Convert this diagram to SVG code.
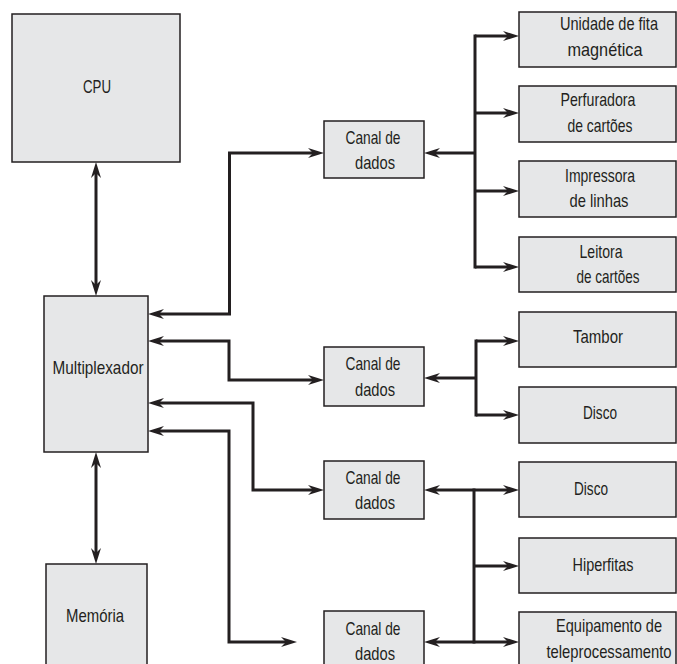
<svg xmlns="http://www.w3.org/2000/svg" width="677" height="664" viewBox="0 0 677 664">
<style>
.box{fill:#e6e7e8;stroke:#231f20;stroke-width:1.5}
.t{font-family:"Liberation Sans","Arial",sans-serif;font-size:18.5px;fill:#231f20;text-anchor:middle}
.c{fill:none;stroke:#231f20;stroke-width:3;stroke-linejoin:miter}
.a{marker-end:url(#ah)}
.b{marker-start:url(#ah);marker-end:url(#ah)}
.s{marker-start:url(#ah)}
.bus{stroke-linecap:square}
</style>
<defs>
<marker id="ah" viewBox="0 0 16 10" refX="8" refY="5" markerWidth="16" markerHeight="10" markerUnits="userSpaceOnUse" orient="auto-start-reverse">
<path d="M16,5 L0,0 L5,5 L0,10 Z" fill="#231f20"/>
</marker>
</defs>
<rect width="677" height="664" fill="#fff"/>
<g id="connectors">
<path class="c b" d="M96,170 V288"/>
<path class="c b" d="M96,460 V556"/>
<path class="c b" d="M156,314 H229.5 V153 H316"/>
<path class="c b" d="M156,341 H229 V380 H316"/>
<path class="c b" d="M156,403 H253 V490 H316"/>
<path class="c b" d="M156,431 H229 V642 H289"/>
<path class="c s" d="M432,153 H475"/>
<path class="c bus" d="M475,36 V267"/>
<path class="c a" d="M475,36 H511"/>
<path class="c a" d="M475,113 H511"/>
<path class="c a" d="M475,191 H511"/>
<path class="c a" d="M475,267 H511"/>
<path class="c s" d="M432,378 H476"/>
<path class="c bus" d="M476,341 V415"/>
<path class="c a" d="M476,341 H511"/>
<path class="c a" d="M476,415 H511"/>
<path class="c b" d="M432,490 H511"/>
<path class="c bus" d="M474,490 V642"/>
<path class="c a" d="M474,566 H511"/>
<path class="c b" d="M432,642 H511"/>
</g>
<g id="cpu"><rect class="box" x="12" y="14" width="168" height="148"/><text class="t" x="97" y="93" textLength="28" lengthAdjust="spacingAndGlyphs">CPU</text></g>
<g id="mux"><rect class="box" x="44" y="296" width="104" height="156"/><text class="t" x="98" y="374" textLength="91" lengthAdjust="spacingAndGlyphs">Multiplexador</text></g>
<g id="memoria"><rect class="box" x="46" y="564" width="101" height="110"/><text class="t" x="95" y="622" textLength="58" lengthAdjust="spacingAndGlyphs">Memória</text></g>
<g id="canal1"><rect class="box" x="324" y="121" width="100" height="57"/><text class="t" x="373" y="144" textLength="55" lengthAdjust="spacingAndGlyphs">Canal de</text><text class="t" x="375" y="169" textLength="40" lengthAdjust="spacingAndGlyphs">dados</text></g>
<g id="canal2"><rect class="box" x="324" y="347" width="100" height="59"/><text class="t" x="373" y="370" textLength="55" lengthAdjust="spacingAndGlyphs">Canal de</text><text class="t" x="375" y="396" textLength="40" lengthAdjust="spacingAndGlyphs">dados</text></g>
<g id="canal3"><rect class="box" x="324" y="461" width="100" height="58"/><text class="t" x="373" y="484" textLength="55" lengthAdjust="spacingAndGlyphs">Canal de</text><text class="t" x="375" y="509" textLength="40" lengthAdjust="spacingAndGlyphs">dados</text></g>
<g id="canal4"><rect class="box" x="324" y="611" width="100" height="60"/><text class="t" x="373" y="635" textLength="55" lengthAdjust="spacingAndGlyphs">Canal de</text><text class="t" x="375" y="660" textLength="40" lengthAdjust="spacingAndGlyphs">dados</text></g>
<g id="fita"><rect class="box" x="519" y="12" width="157" height="55"/><text class="t" x="609" y="30" textLength="98" lengthAdjust="spacingAndGlyphs">Unidade de fita</text><text class="t" x="605" y="56" textLength="75" lengthAdjust="spacingAndGlyphs">magnética</text></g>
<g id="perfuradora"><rect class="box" x="519" y="86" width="157" height="56"/><text class="t" x="598" y="106" textLength="75" lengthAdjust="spacingAndGlyphs">Perfuradora</text><text class="t" x="600" y="132" textLength="65" lengthAdjust="spacingAndGlyphs">de cartões</text></g>
<g id="impressora"><rect class="box" x="519" y="161" width="157" height="56"/><text class="t" x="600" y="182" textLength="70" lengthAdjust="spacingAndGlyphs">Impressora</text><text class="t" x="599" y="207" textLength="59" lengthAdjust="spacingAndGlyphs">de linhas</text></g>
<g id="leitora"><rect class="box" x="519" y="237" width="157" height="55"/><text class="t" x="601" y="258" textLength="43" lengthAdjust="spacingAndGlyphs">Leitora</text><text class="t" x="608" y="283" textLength="63" lengthAdjust="spacingAndGlyphs">de cartões</text></g>
<g id="tambor"><rect class="box" x="519" y="312" width="157" height="55"/><text class="t" x="598" y="343" textLength="50" lengthAdjust="spacingAndGlyphs">Tambor</text></g>
<g id="disco1"><rect class="box" x="519" y="387" width="157" height="56"/><text class="t" x="600" y="419" textLength="34" lengthAdjust="spacingAndGlyphs">Disco</text></g>
<g id="disco2"><rect class="box" x="519" y="462" width="157" height="55"/><text class="t" x="591" y="495" textLength="34" lengthAdjust="spacingAndGlyphs">Disco</text></g>
<g id="hiperfitas"><rect class="box" x="519" y="538" width="157" height="55"/><text class="t" x="603" y="571" textLength="61" lengthAdjust="spacingAndGlyphs">Hiperfitas</text></g>
<g id="teleproc"><rect class="box" x="519" y="612" width="157" height="60"/><text class="t" x="609" y="632" textLength="106" lengthAdjust="spacingAndGlyphs">Equipamento de</text><text class="t" x="609" y="658" textLength="125" lengthAdjust="spacingAndGlyphs">teleprocessamento</text></g>
</svg>
